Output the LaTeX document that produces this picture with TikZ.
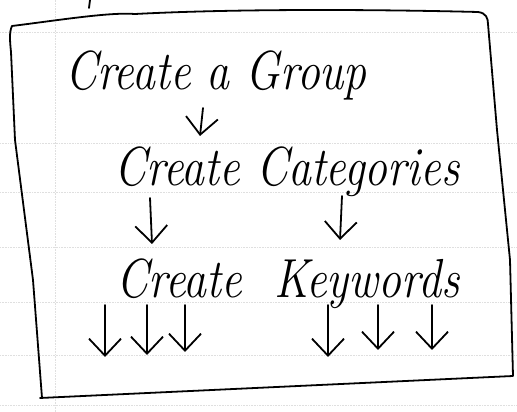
\documentclass[tikz,border=0pt]{standalone}
\usepackage{amsmath, amssymb}
\usepackage{tikz}
\usetikzlibrary{positioning,arrows.meta}

\newcommand{\handfont}{\fontsize{46}{52}\selectfont\itshape}
\newcommand{\tall}[1]{\scalebox{1}[1.2]{#1}}
\tikzset{
  pen/.style={black,line width=1.8bp,line cap=round,line join=round},
  down/.style={pen,-{Straight Barb[length=17bp,width=32bp,line width=1.8bp]}},
  grid line/.style={gray!25,densely dotted,line width=0.6bp},
}

\begin{document}
\begin{tikzpicture}[>=latex,line join=bevel,]
\useasboundingbox (0bp,0bp) rectangle (517bp,412bp);
%% faint ruling of the paper
\foreach \y in {380,269,220,165,110,57,7}
  \draw [grid line] (0bp,\y bp) -- (517bp,\y bp);
\draw [grid line] (55bp,0bp) -- (55bp,412bp);
\draw [pen] (90bp,412bp) -- (89bp,404bp);
%% the frame, drawn by hand
\draw [pen] (12bp,386bp) .. controls (60bp,392bp) and (110bp,400bp) .. (135bp,398bp)
  .. controls (250bp,404bp) and (400bp,402bp) .. (478bp,400bp)
  .. controls (486bp,399bp) and (488bp,394bp) .. (488bp,388bp)
  -- (497bp,282bp) -- (510bp,152bp) -- (513bp,36bp)
  -- (40bp,14bp);
\draw [pen] (12bp,386bp) .. controls (9bp,380bp) and (10bp,370bp) .. (11bp,360bp)
  -- (15bp,272bp) -- (33bp,132bp) -- (42bp,14bp);
%% the three steps
\node (group) at (216bp,322bp) [anchor=base,draw=none,font=\handfont] {\tall{Create a Group}};
\node (cats) at (287bp,226bp) [anchor=base,draw=none,font=\handfont] {\tall{Create Categories}};
\node (kw) at (288bp,114bp) [anchor=base,draw=none,font=\handfont] {\tall{Create\hspace{32bp}Keywords}};
%
\draw [down] ([xshift=-13bp,yshift=-18bp]group.base) -- ([xshift=-87bp,yshift=50bp]cats.base);
\draw [down] ([xshift=-137bp,yshift=-12bp]cats.base) -- ([xshift=-136bp,yshift=54bp]kw.base);
\draw [down] ([xshift=55bp,yshift=-10bp]cats.base) -- ([xshift=52bp,yshift=58bp]kw.base);
%
\foreach \dx/\dy [count=\i] in {-183/-59,-141/-57,-103/-54,40/-59,90/-52,144/-52} {
  \coordinate (leaf\i) at ([xshift=\dx bp,yshift=\dy bp]kw.base);
  \draw [down] ([xshift=\dx bp,yshift=-7bp]kw.base) -- (leaf\i);
}
%
\end{tikzpicture}
\end{document}
